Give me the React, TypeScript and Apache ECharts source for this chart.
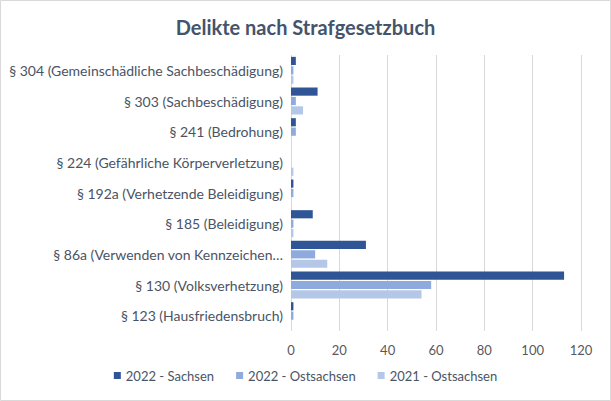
import React, { useEffect, useRef } from "react";
import * as echarts from "echarts";

const categories = [
  "§ 123 (Hausfriedensbruch)",
  "§ 130 (Volksverhetzung)",
  "§ 86a (Verwenden von Kennzeichen…",
  "§ 185 (Beleidigung)",
  "§ 192a (Verhetzende Beleidigung)",
  "§ 224 (Gefährliche Körperverletzung)",
  "§ 241 (Bedrohung)",
  "§ 303 (Sachbeschädigung)",
  "§ 304 (Gemeinschädliche Sachbeschädigung)",
];
const sachsen2022 = [1, 113, 31, 9, 1, 0, 2, 11, 2];
const ostsachsen2022 = [1, 58, 10, 1, 1, 0, 2, 2, 1];
const ostsachsen2021 = [0, 54, 15, 1, 0, 1, 0, 5, 1];
const seriesNames = ["2022 - Sachsen", "2022 - Ostsachsen", "2021 - Ostsachsen"];
const colors = ["#2F5597", "#8FAADC", "#B4C7E7"];

export default function App() {
  const ref = useRef<HTMLDivElement>(null);
  useEffect(() => {
    if (!ref.current) return;
    const chart = echarts.init(ref.current, undefined, { renderer: "svg" });
    const font = "Lato";
    const data = [sachsen2022, ostsachsen2022, ostsachsen2021];
    chart.setOption({
      animation: false,
      textStyle: { fontFamily: font },
      title: {
        text: "Delikte nach Strafgesetzbuch",
        left: "center",
        top: 12,
        textStyle: { fontFamily: font, fontSize: 20, fontWeight: "bold", color: "#44546A" },
      },
      graphic: [
        {
          type: "rect",
          shape: { x: 0.5, y: 0.5, width: 610, height: 400 },
          style: { fill: "none", stroke: "#D9D9D9", lineWidth: 1 },
          silent: true,
        },
      ],
      legend: {
        bottom: 14,
        left: "center",
        itemWidth: 7,
        itemHeight: 7,
        itemGap: 22,
        icon: "rect",
        textStyle: { fontFamily: font, fontSize: 13, color: "#4A5465" },
        data: seriesNames,
      },
      grid: { left: 291, right: 30, top: 55, bottom: 70, containLabel: false },
      xAxis: {
        type: "value",
        min: 0,
        max: 120,
        interval: 20,
        axisLine: { show: false },
        axisTick: { show: false },
        axisLabel: { color: "#595959", fontSize: 13, margin: 12, fontFamily: font },
        splitLine: { lineStyle: { color: "#D9D9D9", width: 1 } },
      },
      yAxis: {
        type: "category",
        data: categories,
        axisLine: { show: false },
        axisTick: { show: false },
        axisLabel: { color: "#4A5465", fontSize: 14, margin: 8, fontFamily: font },
      },
      series: seriesNames.map((name, i) => ({
        name,
        type: "bar",
        data: data[i],
        itemStyle: { color: colors[i] },
        barGap: "15%",
        barCategoryGap: "12%",
      })),
    });
    return () => chart.dispose();
  }, []);
  return (
    <div
      ref={ref}
      style={{ position: "fixed", left: 0, top: 0, width: 611, height: 401, background: "#fff" }}
    />
  );
}
